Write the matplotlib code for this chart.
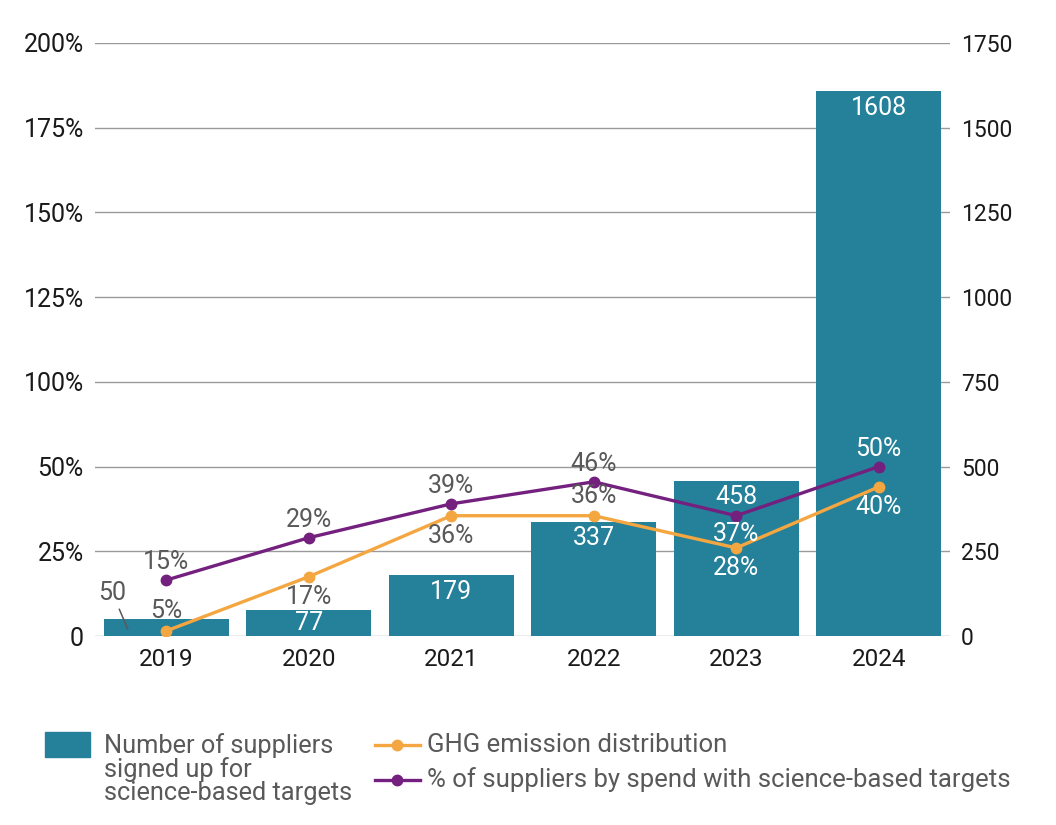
import matplotlib
matplotlib.use('Agg')
import matplotlib.pyplot as plt
from matplotlib.lines import Line2D
from matplotlib.patches import Rectangle
import numpy as np

plt.rcParams['font.family'] = ['Roboto', 'DejaVu Sans']

years = ['2019', '2020', '2021', '2022', '2023', '2024']
suppliers = [50, 77, 179, 337, 458, 1608]

# the original chart draws the two shares on the supplier scale (1000 = 100%)
ghg_share = [0.015, 0.175, 0.355, 0.355, 0.26, 0.44]
spend_share = [0.165, 0.29, 0.39, 0.455, 0.355, 0.50]
ghg_labels = ['5%', '17%', '36%', '36%', '28%', '40%']
spend_labels = ['15%', '29%', '39%', '46%', '37%', '50%']

# left labels sit on the right-hand gridlines (75% is skipped in the original)
right_ticks = [0, 250, 500, 750, 1000, 1250, 1500, 1750]
left_ticklabels = ['0', '25%', '50%', '100%', '125%', '150%', '175%', '200%']

teal = '#25809a'
orange = '#f4a640'
purple = '#74207e'
grey_txt = '#595959'

W, H = 1056, 825
fig = plt.figure(figsize=(W / 100, H / 100), dpi=100)
ax = fig.add_axes([95 / W, 1 - 636 / H, (950 - 95) / W, (636 - 43) / H])
ax2 = ax.twinx()

x = np.arange(len(years))

ax.set_ylim(0, 1750)
ax.set_yticks(right_ticks)
ax.set_yticklabels(left_ticklabels)
ax.set_xlim(-0.5, len(years) - 0.5)
ax.set_xticks(x)
ax.set_xticklabels(years)

ax2.set_ylim(0, 1750)
ax2.set_yticks(right_ticks)
ax2.set_yticklabels([str(t) for t in right_ticks])
ax2.set_axisbelow(True)
ax2.grid(axis='y', color='#9a9a9a', linewidth=1.0)

for a in (ax, ax2):
    for s in a.spines.values():
        s.set_visible(False)
    a.tick_params(length=0, colors='#1a1a1a')
ax.tick_params(axis='y', labelsize=18, pad=8)
ax.tick_params(axis='x', labelsize=17.5, pad=9)
ax2.tick_params(axis='y', labelsize=16.5, pad=8)

ax2.bar(x, suppliers, width=0.875, color=teal, zorder=2)

ghg_vals = [v * 1000 for v in ghg_share]
spend_vals = [v * 1000 for v in spend_share]
ax2.plot(x, ghg_vals, color=orange, linewidth=2.4, marker='o', markersize=7.5, zorder=3)
ax2.plot(x, spend_vals, color=purple, linewidth=2.4, marker='o', markersize=7.5, zorder=4)

# bar value labels
for i, v in enumerate(suppliers):
    if i == 0:
        ax2.annotate(str(v), xy=(i - 0.27, 20), xytext=(-11, 26), textcoords='offset points',
                     ha='center', va='center', fontsize=18, color=grey_txt, zorder=6,
                     arrowprops=dict(arrowstyle='-', color=grey_txt, lw=1.1, shrinkA=1, shrinkB=0))
    else:
        off = -9.5 if i == 1 else -12
        ax2.annotate(str(v), xy=(i, v), xytext=(0, off), textcoords='offset points',
                     ha='center', va='center', fontsize=18, color='white', zorder=5)

# line labels: +1 above the point, -1 below
spend_side = [1, 1, 1, 1, -1, 1]
ghg_side = [1, -1, -1, 1, -1, -1]
spend_col = [grey_txt, grey_txt, grey_txt, grey_txt, 'white', 'white']
ghg_col = [grey_txt, grey_txt, grey_txt, grey_txt, 'white', 'white']
for i in range(len(years)):
    ax2.annotate(spend_labels[i], xy=(i, spend_vals[i]), xytext=(0, 13 * spend_side[i]),
                 textcoords='offset points', ha='center', va='center',
                 fontsize=18, color=spend_col[i], zorder=6)
    ax2.annotate(ghg_labels[i], xy=(i, ghg_vals[i]), xytext=(0, 14.5 * ghg_side[i]),
                 textcoords='offset points', ha='center', va='center',
                 fontsize=18, color=ghg_col[i], zorder=6)

# legend drawn by hand
fig.add_artist(Rectangle((45 / W, 1 - 757 / H), 45 / W, 25 / H, color=teal,
                         transform=fig.transFigure))
fig.text(104 / W, 1 - 769 / H, 'Number of suppliers\nsigned up for\nscience-based targets',
         ha='left', va='center', fontsize=18.3, color=grey_txt, linespacing=0.97,
         transform=fig.transFigure)
for yy, col, lab in [(745, orange, 'GHG emission distribution'),
                     (780, purple, '% of suppliers by spend with science-based targets')]:
    fig.add_artist(Line2D([375 / W, 397 / W, 420 / W], [1 - yy / H] * 3, color=col,
                          linewidth=2.4, marker='o', markersize=7.5, markevery=[1],
                          transform=fig.transFigure))
    fig.text(427 / W, 1 - yy / H, lab, ha='left', va='center', fontsize=18.5,
             color=grey_txt, transform=fig.transFigure)

fig.savefig('out.png', dpi=100)
